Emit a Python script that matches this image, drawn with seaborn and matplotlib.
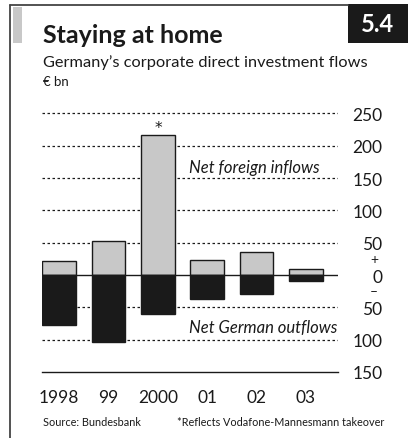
import pandas as pd
import matplotlib.pyplot as plt
import seaborn as sns
from matplotlib.patches import Rectangle
from matplotlib.lines import Line2D

# ── DATA ───────────────────────────────────────────────
years = ['1998', '99', '2000', '01', '02', '03']
inflows = [21, 52, 217, 23, 35, 9]
outflows = [-78, -103, -61, -37, -30, -9]
ytick_vals = [-150, -100, -50, 0, 50, 100, 150, 200, 250]
ytick_labels = ['150', '100', '50', '0', '50', '100', '150', '200', '250']

df = pd.DataFrame({'year': years, 'inflows': inflows, 'outflows': outflows})

# ── STYLE ──────────────────────────────────────────────
sns.set_style('white')
plt.rcParams['font.family'] = ['Lato', 'DejaVu Sans']

W, H = 408, 439
fig = plt.figure(figsize=(W / 100, H / 100), dpi=100)

def fx(px):
    return px / W

def fy(py):
    return 1 - py / H

# axes: x 42..338 px, y -150 at 373 px, 265 at ~105 px
ax = fig.add_axes([fx(42), fy(373), fx(338) - fx(42), (373 - 104.8) / H])

sns.barplot(data=df, x='year', y='inflows', color='#c8c8c8', edgecolor='#1a1a1a',
            linewidth=1, width=0.68, saturation=1, ax=ax, zorder=3)
sns.barplot(data=df, x='year', y='outflows', color='#1a1a1a', edgecolor='#1a1a1a',
            linewidth=1, width=0.68, saturation=1, ax=ax, zorder=3)

ax.set_xlim(-0.35, 5.65)
ax.set_ylim(-150, 265)

for v in [250, 200, 150, 100, 50, -50, -100]:
    ax.axhline(v, color='#1a1a1a', lw=0.9, ls=(0, (2, 2)), zorder=1)
ax.axhline(0, color='#1a1a1a', lw=1, zorder=4)

for s in ['top', 'left', 'right']:
    ax.spines[s].set_visible(False)
ax.spines['bottom'].set_color('#1a1a1a')
ax.spines['bottom'].set_linewidth(1)

ax.set_xlabel('')
ax.set_ylabel('')
ax.tick_params(axis='x', direction='in', length=5, width=0.9, color='#1a1a1a',
               pad=12, labelsize=12.5, labelcolor='#1a1a1a')

ax.yaxis.tick_right()
ax.set_yticks(ytick_vals)
ax.set_yticklabels(ytick_labels)
ax.tick_params(axis='y', length=0, pad=32, labelsize=12.5, labelcolor='#1a1a1a')
for lab in ax.get_yticklabels():
    lab.set_horizontalalignment('right')

# + / – around zero
ax.text(1.122, 25, '+', transform=ax.get_yaxis_transform(), ha='center', va='center',
        fontsize=10, color='#1a1a1a')
ax.text(1.122, -25, '–', transform=ax.get_yaxis_transform(), ha='center', va='center',
        fontsize=10, color='#1a1a1a')

ax.text(2.62, 167, 'Net foreign inflows', style='italic', fontsize=12,
        ha='left', va='center', color='#1a1a1a', zorder=5)
ax.text(2.62, -80, 'Net German outflows', style='italic', fontsize=12,
        ha='left', va='center', color='#1a1a1a', zorder=5)
ax.text(2, 229, '*', fontsize=11, family='DejaVu Sans', ha='center', va='center',
        color='#1a1a1a')

# ── FRAME & HEADINGS ───────────────────────────────────
fig.add_artist(Line2D([fx(10), fx(10)], [fy(5.5), fy(439)], color='#444444', lw=1.3))
fig.add_artist(Line2D([fx(10), fx(348)], [fy(5.5), fy(5.5)], color='#444444', lw=1.3))
fig.add_artist(Rectangle((fx(12.5), fy(43.5)), fx(9), (43.5 - 8.3) / H,
                         facecolor='#c8c8c8', edgecolor='none'))
fig.add_artist(Rectangle((fx(348), fy(43.5)), fx(60), (43.5 - 5) / H,
                         facecolor='#1a1a1a', edgecolor='none'))
fig.text(fx(378), fy(24), '5.4', color='white', fontsize=17, fontweight='bold',
         ha='center', va='center')

fig.text(fx(43), fy(43), 'Staying at home', fontsize=18, fontweight='bold',
         ha='left', va='baseline', color='#1a1a1a')
fig.text(fx(43), fy(67), 'Germany\u2019s corporate direct investment flows', fontsize=11.8,
         ha='left', va='baseline', color='#1a1a1a')
fig.text(fx(43), fy(86), '\u20ac bn', fontsize=9.5, ha='left', va='baseline', color='#1a1a1a')

fig.text(fx(43), fy(426), 'Source: Bundesbank', fontsize=7.8, ha='left', va='baseline',
         color='#1a1a1a')
fig.text(fx(384), fy(426), '*Reflects Vodafone-Mannesmann takeover', fontsize=7.8,
         ha='right', va='baseline', color='#1a1a1a')

fig.savefig('out.png', dpi=100)
